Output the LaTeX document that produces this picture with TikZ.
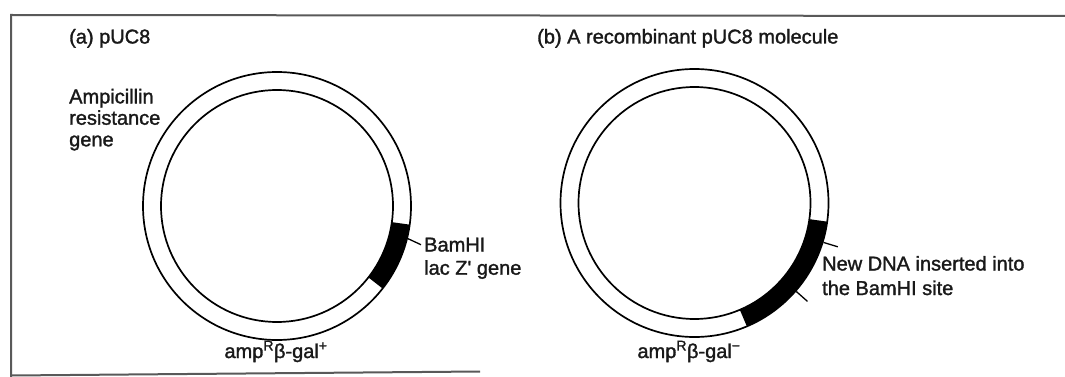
\documentclass[tikz,border=0pt]{standalone}
\usepackage{fontspec}
\setmainfont{Liberation Sans}
\newfontfamily\labelfont{Liberation Sans}[FakeBold=1.5]
\begin{document}
\begin{tikzpicture}[x=1pt,y=-1pt,
  ring/.style={circle, draw, line width=1.7pt, inner sep=0pt},
  outerring/.style={ring, minimum size=268pt},
  innerring/.style={ring, minimum size=232pt},
  insert/.style={fill=black},
  tick/.style={line width=1.3pt},
  lbl/.style={inner sep=0pt, anchor=base west, font=\labelfont\fontsize{20}{24}\selectfont, text=black!90},
  lblc/.style={lbl, anchor=base},
  frame/.style={line width=2pt, draw=black!65}]
\useasboundingbox (0,0) rectangle (1065,377);

% border of the figure
\draw[frame] (11,377) -- (11,15) -- (1065,16);
\draw[frame] (11,375.5) -- (480,371.5);

% (a) pUC8 plasmid
\coordinate (cA) at (277,206);
\fill[insert, shift={(cA)}] (-8:134pt) arc[start angle=-8, end angle=-38, radius=134pt]
  -- (-38:116pt) arc[start angle=-38, end angle=-8, radius=116pt] -- cycle;
\node[outerring] (outerA) at (cA) {};
\node[innerring] (innerA) at (cA) {};

\node[lbl] (titleA) at (69,43.5) {(a) pUC8};
\node[lbl] (ampA1) at (69,103.4) {Ampicillin};
\node[lbl] (ampA2) at (69,124.7) {resistance};
\node[lbl] (ampA3) at (69,146.3) {gene};
\node[lbl] (bamA) at (424,251.5) {BamHI};
\node[lbl] (lacA) at (424,274.7) {lac Z' gene};
\node[lblc] (genoA) at (276,358) {amp\textsuperscript{R}β-gal\textsuperscript{+}};
\draw[tick] (outerA.-14.5) -- ([xshift=-3pt]bamA.west);

% (b) recombinant pUC8
\coordinate (cB) at (694.5,203);
\fill[insert, shift={(cB)}] (-8:134pt) arc[start angle=-8, end angle=-67, radius=134pt]
  -- (-67:116pt) arc[start angle=-67, end angle=-8, radius=116pt] -- cycle;
\node[outerring] (outerB) at (cB) {};
\node[innerring] (innerB) at (cB) {};

\node[lbl] (titleB) at (537,43.5) {(b) A recombinant pUC8 molecule};
\node[lbl] (newB1) at (822,270.5) {New DNA inserted into};
\node[lbl] (newB2) at (822,295) {the BamHI site};
\node[lblc] (genoB) at (689,358) {amp\textsuperscript{R}β-gal\textsuperscript{−}};
\coordinate (tickB1) at ([shift={(-17:15pt)}]outerB.-17);
\coordinate (tickB2) at ([shift={(-41.5:15pt)}]outerB.-41.5);
\draw[tick] (outerB.-17) -- (tickB1);
\draw[tick] (outerB.-41.5) -- (tickB2);
\end{tikzpicture}
\end{document}
